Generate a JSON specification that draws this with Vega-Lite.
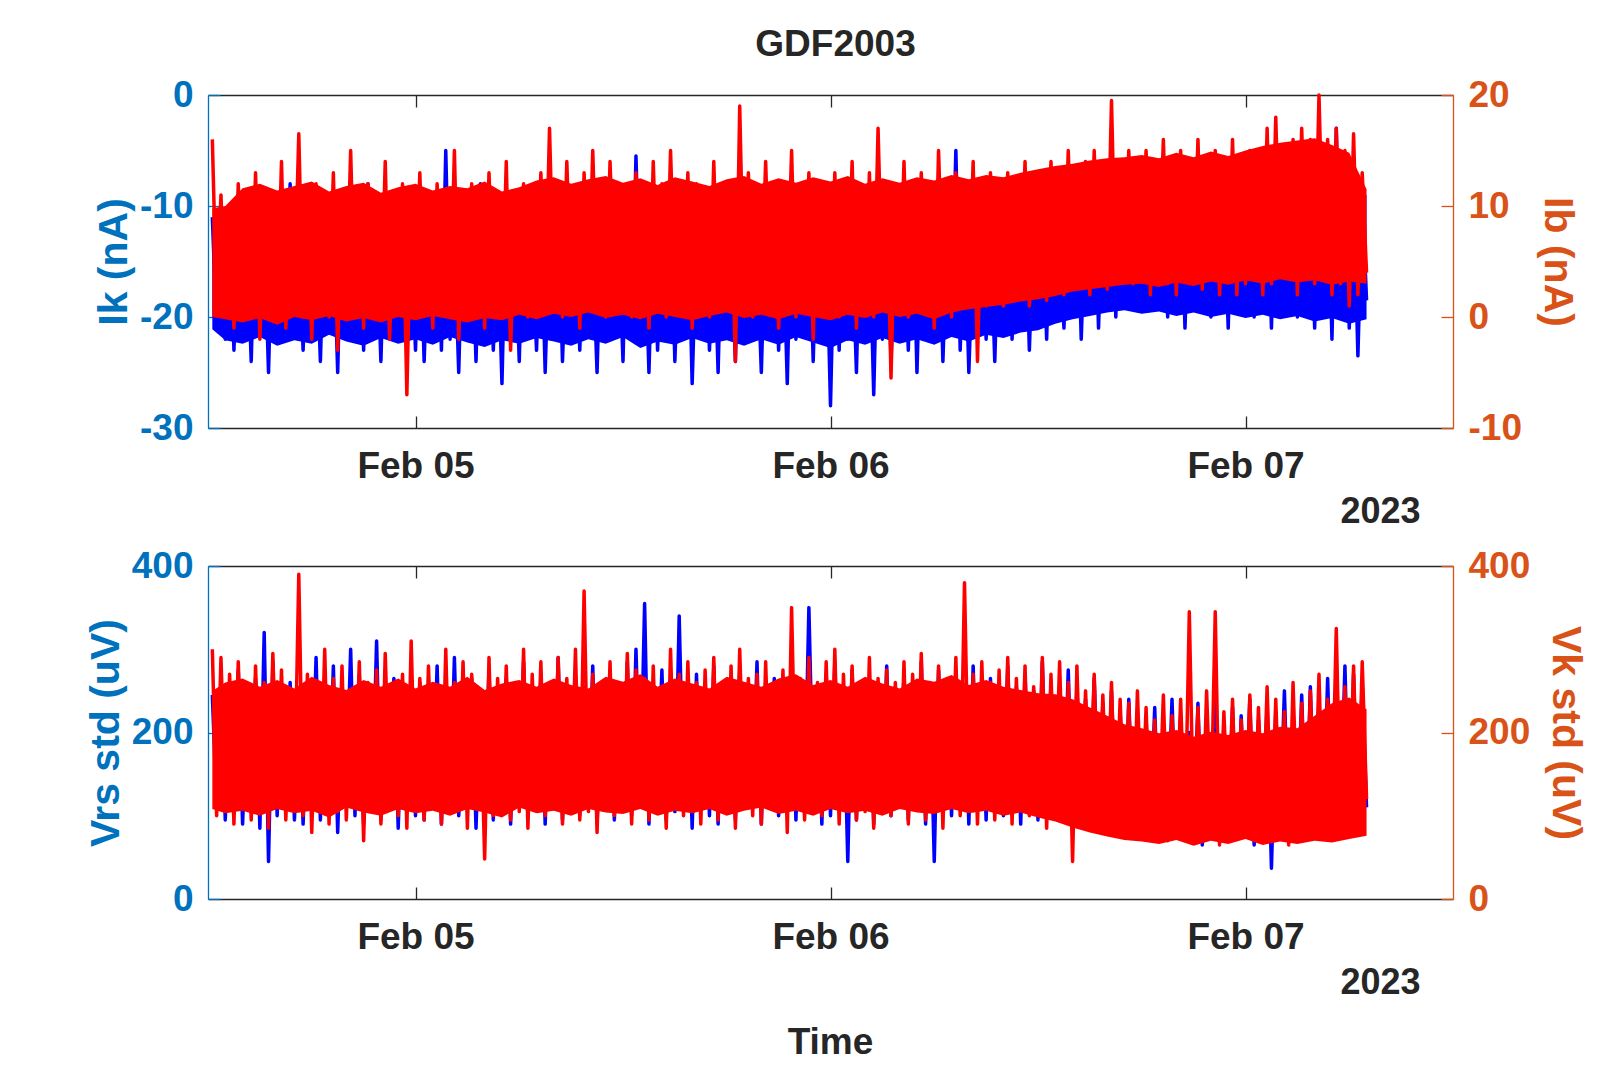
{
  "$schema": "https://vega.github.io/schema/vega-lite/v6.json",
  "padding": {"left": 85, "top": 26, "right": 5, "bottom": 5},
  "title": {"text": "GDF2003", "fontSize": 37, "fontWeight": "bold", "color": "#262626", "anchor": "middle", "offset": 12},
  "config": {
    "font": "Liberation Sans",
    "view": {"stroke": null},
    "line": {"strokeWidth": 3.5, "strokeJoin": "round", "clip": true},
    "area": {"clip": true, "opacity": 1},
    "axis": {"grid": false, "labelFontSize": 37, "labelFontWeight": "bold", "titleFontWeight": "bold", "tickSize": -12, "tickWidth": 1.3, "domainWidth": 1.3}
  },
  "datasets": {
    "b": [
{"t":"2023-02-04T12:15","ikLo":-21.1,"ikHi":-12,"ibLo":0.0,"ibHi":9.8,"vkLo":108,"vkHi":250},
{"t":"2023-02-04T13:00","ikLo":-22.1,"ikHi":-12,"ibLo":-0.2,"ibHi":10.0,"vkLo":103,"vkHi":260},
{"t":"2023-02-04T14:00","ikLo":-22.4,"ikHi":-12,"ibLo":-0.5,"ibHi":11.6,"vkLo":106,"vkHi":265},
{"t":"2023-02-04T15:00","ikLo":-21.8,"ikHi":-12,"ibLo":-0.1,"ibHi":12.0,"vkLo":100,"vkHi":255},
{"t":"2023-02-04T16:00","ikLo":-22.6,"ikHi":-12,"ibLo":-0.7,"ibHi":11.4,"vkLo":108,"vkHi":263},
{"t":"2023-02-04T17:00","ikLo":-22.1,"ikHi":-12,"ibLo":0.0,"ibHi":11.8,"vkLo":103,"vkHi":253},
{"t":"2023-02-04T18:00","ikLo":-22.4,"ikHi":-12,"ibLo":-0.3,"ibHi":12.2,"vkLo":106,"vkHi":267},
{"t":"2023-02-04T19:00","ikLo":-21.6,"ikHi":-12,"ibLo":0.1,"ibHi":11.3,"vkLo":98,"vkHi":257},
{"t":"2023-02-04T20:00","ikLo":-22.2,"ikHi":-12,"ibLo":-0.4,"ibHi":11.8,"vkLo":110,"vkHi":251},
{"t":"2023-02-04T21:00","ikLo":-22.6,"ikHi":-12,"ibLo":-0.1,"ibHi":12.1,"vkLo":104,"vkHi":263},
{"t":"2023-02-04T22:00","ikLo":-21.9,"ikHi":-12,"ibLo":-0.5,"ibHi":11.2,"vkLo":100,"vkHi":255},
{"t":"2023-02-04T23:00","ikLo":-22.4,"ikHi":-12,"ibLo":0.0,"ibHi":11.7,"vkLo":108,"vkHi":265},
{"t":"2023-02-05T00:00","ikLo":-22.0,"ikHi":-12,"ibLo":-0.3,"ibHi":12.0,"vkLo":103,"vkHi":253},
{"t":"2023-02-05T01:00","ikLo":-22.5,"ikHi":-12,"ibLo":0.1,"ibHi":11.4,"vkLo":106,"vkHi":261},
{"t":"2023-02-05T02:00","ikLo":-21.8,"ikHi":-12,"ibLo":-0.2,"ibHi":11.8,"vkLo":100,"vkHi":255},
{"t":"2023-02-05T03:00","ikLo":-22.3,"ikHi":-12,"ibLo":-0.5,"ibHi":11.6,"vkLo":108,"vkHi":267},
{"t":"2023-02-05T04:00","ikLo":-22.7,"ikHi":-12,"ibLo":-0.1,"ibHi":12.2,"vkLo":104,"vkHi":251},
{"t":"2023-02-05T05:00","ikLo":-22.1,"ikHi":-12,"ibLo":-0.3,"ibHi":11.3,"vkLo":98,"vkHi":259},
{"t":"2023-02-05T06:00","ikLo":-22.4,"ikHi":-12,"ibLo":0.2,"ibHi":11.7,"vkLo":110,"vkHi":263},
{"t":"2023-02-05T07:00","ikLo":-21.9,"ikHi":-12,"ibLo":-0.2,"ibHi":12.3,"vkLo":103,"vkHi":255},
{"t":"2023-02-05T08:00","ikLo":-22.2,"ikHi":-12,"ibLo":0.3,"ibHi":12.6,"vkLo":106,"vkHi":265},
{"t":"2023-02-05T09:00","ikLo":-22.6,"ikHi":-12,"ibLo":0.0,"ibHi":12.0,"vkLo":100,"vkHi":257},
{"t":"2023-02-05T10:00","ikLo":-22.0,"ikHi":-12,"ibLo":0.4,"ibHi":12.4,"vkLo":108,"vkHi":253},
{"t":"2023-02-05T11:00","ikLo":-22.4,"ikHi":-12,"ibLo":-0.1,"ibHi":12.7,"vkLo":104,"vkHi":267},
{"t":"2023-02-05T12:00","ikLo":-21.8,"ikHi":-12,"ibLo":0.2,"ibHi":12.1,"vkLo":102,"vkHi":261},
{"t":"2023-02-05T13:00","ikLo":-22.8,"ikHi":-12,"ibLo":-0.2,"ibHi":12.5,"vkLo":108,"vkHi":270},
{"t":"2023-02-05T14:00","ikLo":-22.2,"ikHi":-12,"ibLo":0.3,"ibHi":11.9,"vkLo":100,"vkHi":255},
{"t":"2023-02-05T15:00","ikLo":-22.5,"ikHi":-12,"ibLo":0.0,"ibHi":12.6,"vkLo":106,"vkHi":265},
{"t":"2023-02-05T16:00","ikLo":-21.9,"ikHi":-12,"ibLo":-0.3,"ibHi":12.2,"vkLo":103,"vkHi":259},
{"t":"2023-02-05T17:00","ikLo":-22.4,"ikHi":-12,"ibLo":0.1,"ibHi":11.8,"vkLo":108,"vkHi":253},
{"t":"2023-02-05T18:00","ikLo":-22.1,"ikHi":-12,"ibLo":0.4,"ibHi":12.4,"vkLo":100,"vkHi":267},
{"t":"2023-02-05T19:00","ikLo":-22.6,"ikHi":-12,"ibLo":-0.1,"ibHi":12.7,"vkLo":106,"vkHi":261},
{"t":"2023-02-05T20:00","ikLo":-22.0,"ikHi":-12,"ibLo":0.2,"ibHi":12.0,"vkLo":110,"vkHi":255},
{"t":"2023-02-05T21:00","ikLo":-22.5,"ikHi":-12,"ibLo":-0.2,"ibHi":12.5,"vkLo":102,"vkHi":265},
{"t":"2023-02-05T22:00","ikLo":-21.8,"ikHi":-12,"ibLo":0.3,"ibHi":12.1,"vkLo":106,"vkHi":270},
{"t":"2023-02-05T23:00","ikLo":-22.3,"ikHi":-12,"ibLo":0.0,"ibHi":12.6,"vkLo":100,"vkHi":257},
{"t":"2023-02-06T00:00","ikLo":-22.8,"ikHi":-12,"ibLo":-0.3,"ibHi":12.2,"vkLo":108,"vkHi":263},
{"t":"2023-02-06T01:00","ikLo":-22.1,"ikHi":-12,"ibLo":0.2,"ibHi":12.7,"vkLo":103,"vkHi":255},
{"t":"2023-02-06T02:00","ikLo":-22.5,"ikHi":-12,"ibLo":-0.1,"ibHi":12.0,"vkLo":106,"vkHi":267},
{"t":"2023-02-06T03:00","ikLo":-21.9,"ikHi":-12,"ibLo":0.4,"ibHi":12.5,"vkLo":100,"vkHi":259},
{"t":"2023-02-06T04:00","ikLo":-22.4,"ikHi":-12,"ibLo":0.0,"ibHi":12.1,"vkLo":108,"vkHi":253},
{"t":"2023-02-06T05:00","ikLo":-22.0,"ikHi":-12,"ibLo":0.3,"ibHi":12.6,"vkLo":104,"vkHi":265},
{"t":"2023-02-06T06:00","ikLo":-22.5,"ikHi":-12,"ibLo":-0.2,"ibHi":12.3,"vkLo":102,"vkHi":261},
{"t":"2023-02-06T07:00","ikLo":-21.8,"ikHi":-12,"ibLo":0.4,"ibHi":12.8,"vkLo":108,"vkHi":269},
{"t":"2023-02-06T08:00","ikLo":-22.2,"ikHi":-12,"ibLo":0.7,"ibHi":12.4,"vkLo":103,"vkHi":257},
{"t":"2023-02-06T09:00","ikLo":-21.6,"ikHi":-12,"ibLo":0.9,"ibHi":12.8,"vkLo":106,"vkHi":263},
{"t":"2023-02-06T10:00","ikLo":-21.9,"ikHi":-11.5,"ibLo":1.1,"ibHi":12.6,"vkLo":100,"vkHi":255},
{"t":"2023-02-06T11:00","ikLo":-21.4,"ikHi":-11.5,"ibLo":1.4,"ibHi":13.0,"vkLo":104,"vkHi":251},
{"t":"2023-02-06T12:00","ikLo":-21.2,"ikHi":-11,"ibLo":1.6,"ibHi":13.3,"vkLo":98,"vkHi":247},
{"t":"2023-02-06T13:00","ikLo":-20.6,"ikHi":-10.5,"ibLo":1.9,"ibHi":13.6,"vkLo":93,"vkHi":246},
{"t":"2023-02-06T14:00","ikLo":-20.2,"ikHi":-10,"ibLo":2.3,"ibHi":13.8,"vkLo":86,"vkHi":240},
{"t":"2023-02-06T15:00","ikLo":-19.9,"ikHi":-10,"ibLo":2.5,"ibHi":14.1,"vkLo":80,"vkHi":230},
{"t":"2023-02-06T16:00","ikLo":-19.6,"ikHi":-9.5,"ibLo":2.7,"ibHi":14.3,"vkLo":75,"vkHi":220},
{"t":"2023-02-06T17:00","ikLo":-19.4,"ikHi":-9,"ibLo":2.9,"ibHi":14.4,"vkLo":71,"vkHi":210},
{"t":"2023-02-06T18:00","ikLo":-19.7,"ikHi":-9,"ibLo":3.0,"ibHi":14.6,"vkLo":69,"vkHi":205},
{"t":"2023-02-06T19:00","ikLo":-19.5,"ikHi":-9,"ibLo":2.7,"ibHi":14.3,"vkLo":66,"vkHi":199},
{"t":"2023-02-06T20:00","ikLo":-19.9,"ikHi":-9,"ibLo":3.1,"ibHi":14.8,"vkLo":71,"vkHi":203},
{"t":"2023-02-06T21:00","ikLo":-19.6,"ikHi":-9,"ibLo":2.8,"ibHi":14.4,"vkLo":64,"vkHi":195},
{"t":"2023-02-06T22:00","ikLo":-20.0,"ikHi":-9,"ibLo":3.2,"ibHi":14.9,"vkLo":70,"vkHi":201},
{"t":"2023-02-06T23:00","ikLo":-19.7,"ikHi":-9,"ibLo":2.9,"ibHi":14.5,"vkLo":66,"vkHi":197},
{"t":"2023-02-07T00:00","ikLo":-20.1,"ikHi":-9,"ibLo":3.3,"ibHi":15.0,"vkLo":72,"vkHi":203},
{"t":"2023-02-07T01:00","ikLo":-19.8,"ikHi":-9,"ibLo":3.0,"ibHi":15.4,"vkLo":65,"vkHi":199},
{"t":"2023-02-07T02:00","ikLo":-20.2,"ikHi":-9,"ibLo":3.4,"ibHi":15.7,"vkLo":69,"vkHi":207},
{"t":"2023-02-07T03:00","ikLo":-19.9,"ikHi":-9,"ibLo":3.1,"ibHi":15.9,"vkLo":66,"vkHi":205},
{"t":"2023-02-07T04:00","ikLo":-20.4,"ikHi":-9,"ibLo":3.3,"ibHi":16.1,"vkLo":70,"vkHi":220},
{"t":"2023-02-07T05:00","ikLo":-20.1,"ikHi":-9,"ibLo":2.9,"ibHi":15.5,"vkLo":68,"vkHi":235},
{"t":"2023-02-07T06:00","ikLo":-20.6,"ikHi":-9,"ibLo":3.2,"ibHi":14.8,"vkLo":72,"vkHi":242},
{"t":"2023-02-07T07:00","ikLo":-20.2,"ikHi":-9,"ibLo":3.0,"ibHi":11.5,"vkLo":76,"vkHi":228}
    ],
    "s": [
{"t":"2023-02-04T12:15","ik":-11,"ib":16,"vrs":245,"vk":300},
{"t":"2023-02-04T12:30","ik":-21,"ib":1,"vrs":110,"vk":100},
{"t":"2023-02-04T12:45","ik":-12,"ib":11,"vrs":260,"vk":290},
{"t":"2023-02-04T13:00","ik":-22,"ib":0,"vrs":95,"vk":115},
{"t":"2023-02-04T13:15","ik":-10,"ib":10,"vrs":250,"vk":270},
{"t":"2023-02-04T13:30","ik":-23,"ib":-1,"vrs":105,"vk":90},
{"t":"2023-02-04T13:45","ik":-11,"ib":12,"vrs":275,"vk":285},
{"t":"2023-02-04T14:00","ik":-20,"ib":1,"vrs":90,"vk":120},
{"t":"2023-02-04T14:15","ik":-13,"ib":10,"vrs":230,"vk":250},
{"t":"2023-02-04T14:30","ik":-24,"ib":0,"vrs":115,"vk":95},
{"t":"2023-02-04T14:45","ik":-9,"ib":13,"vrs":265,"vk":280},
{"t":"2023-02-04T15:00","ik":-21,"ib":-2,"vrs":85,"vk":105},
{"t":"2023-02-04T15:15","ik":-12,"ib":9,"vrs":320,"vk":260},
{"t":"2023-02-04T15:30","ik":-25,"ib":1,"vrs":45,"vk":85},
{"t":"2023-02-04T15:45","ik":-10,"ib":11,"vrs":285,"vk":295},
{"t":"2023-02-04T16:00","ik":-19,"ib":0,"vrs":100,"vk":110},
{"t":"2023-02-04T16:15","ik":-14,"ib":14,"vrs":250,"vk":275},
{"t":"2023-02-04T16:30","ik":-22,"ib":-1,"vrs":110,"vk":95},
{"t":"2023-02-04T16:45","ik":-8,"ib":10,"vrs":260,"vk":240},
{"t":"2023-02-04T17:00","ik":-21,"ib":2,"vrs":95,"vk":115},
{"t":"2023-02-04T17:15","ik":-12,"ib":16.5,"vrs":245,"vk":390},
{"t":"2023-02-04T17:30","ik":-23,"ib":0,"vrs":90,"vk":100},
{"t":"2023-02-04T17:45","ik":-11,"ib":11,"vrs":235,"vk":270},
{"t":"2023-02-04T18:00","ik":-20,"ib":-2,"vrs":120,"vk":80},
{"t":"2023-02-04T18:15","ik":-13,"ib":12,"vrs":290,"vk":255},
{"t":"2023-02-04T18:30","ik":-24,"ib":1,"vrs":95,"vk":120},
{"t":"2023-02-04T18:45","ik":-10,"ib":10,"vrs":250,"vk":300},
{"t":"2023-02-04T19:00","ik":-21,"ib":0,"vrs":110,"vk":90},
{"t":"2023-02-04T19:15","ik":-12,"ib":13,"vrs":280,"vk":265},
{"t":"2023-02-04T19:30","ik":-25,"ib":-3,"vrs":80,"vk":105},
{"t":"2023-02-04T19:45","ik":-9,"ib":11,"vrs":240,"vk":280},
{"t":"2023-02-04T20:00","ik":-22,"ib":1,"vrs":125,"vk":95},
{"t":"2023-02-04T20:15","ik":-14,"ib":15,"vrs":300,"vk":250},
{"t":"2023-02-04T20:30","ik":-20,"ib":0,"vrs":100,"vk":115},
{"t":"2023-02-04T20:45","ik":-11,"ib":10,"vrs":270,"vk":285},
{"t":"2023-02-04T21:00","ik":-23,"ib":-1,"vrs":90,"vk":70},
{"t":"2023-02-04T21:15","ik":-8,"ib":12,"vrs":235,"vk":260},
{"t":"2023-02-04T21:30","ik":-21,"ib":2,"vrs":115,"vk":110},
{"t":"2023-02-04T21:45","ik":-13,"ib":11,"vrs":310,"vk":275},
{"t":"2023-02-04T22:00","ik":-24,"ib":0,"vrs":95,"vk":90},
{"t":"2023-02-04T22:15","ik":-10,"ib":14,"vrs":250,"vk":295},
{"t":"2023-02-04T22:30","ik":-19,"ib":-2,"vrs":110,"vk":120},
{"t":"2023-02-04T22:45","ik":-12,"ib":10,"vrs":265,"vk":255},
{"t":"2023-02-04T23:00","ik":-22,"ib":1,"vrs":85,"vk":100},
{"t":"2023-02-04T23:15","ik":-9,"ib":12,"vrs":245,"vk":270},
{"t":"2023-02-04T23:30","ik":-20,"ib":-7,"vrs":120,"vk":85},
{"t":"2023-02-04T23:45","ik":-13,"ib":11,"vrs":255,"vk":310},
{"t":"2023-02-05T00:00","ik":-23,"ib":0,"vrs":100,"vk":110},
{"t":"2023-02-05T00:15","ik":-11,"ib":13,"vrs":260,"vk":265},
{"t":"2023-02-05T00:30","ik":-24,"ib":1,"vrs":95,"vk":95},
{"t":"2023-02-05T00:45","ik":-12,"ib":10,"vrs":245,"vk":280},
{"t":"2023-02-05T01:00","ik":-21,"ib":-1,"vrs":115,"vk":120},
{"t":"2023-02-05T01:15","ik":-9,"ib":12,"vrs":280,"vk":250},
{"t":"2023-02-05T01:30","ik":-23,"ib":2,"vrs":90,"vk":90},
{"t":"2023-02-05T01:45","ik":-5,"ib":11,"vrs":250,"vk":300},
{"t":"2023-02-05T02:00","ik":-22,"ib":0,"vrs":110,"vk":105},
{"t":"2023-02-05T02:15","ik":-13,"ib":15,"vrs":290,"vk":260},
{"t":"2023-02-05T02:30","ik":-25,"ib":-2,"vrs":100,"vk":115},
{"t":"2023-02-05T02:45","ik":-10,"ib":10,"vrs":240,"vk":285},
{"t":"2023-02-05T03:00","ik":-21,"ib":1,"vrs":125,"vk":85},
{"t":"2023-02-05T03:15","ik":-12,"ib":12,"vrs":265,"vk":270},
{"t":"2023-02-05T03:30","ik":-24,"ib":0,"vrs":85,"vk":110},
{"t":"2023-02-05T03:45","ik":-8,"ib":11,"vrs":245,"vk":245},
{"t":"2023-02-05T04:00","ik":-20,"ib":-1,"vrs":120,"vk":48},
{"t":"2023-02-05T04:15","ik":-11,"ib":13,"vrs":275,"vk":290},
{"t":"2023-02-05T04:30","ik":-23,"ib":2,"vrs":95,"vk":100},
{"t":"2023-02-05T04:45","ik":-13,"ib":10,"vrs":250,"vk":265},
{"t":"2023-02-05T05:00","ik":-26,"ib":0,"vrs":105,"vk":120},
{"t":"2023-02-05T05:15","ik":-9,"ib":14,"vrs":265,"vk":280},
{"t":"2023-02-05T05:30","ik":-21,"ib":-3,"vrs":90,"vk":95},
{"t":"2023-02-05T05:45","ik":-12,"ib":11,"vrs":240,"vk":255},
{"t":"2023-02-05T06:00","ik":-24,"ib":1,"vrs":120,"vk":105},
{"t":"2023-02-05T06:15","ik":-10,"ib":12,"vrs":285,"vk":300},
{"t":"2023-02-05T06:30","ik":-20,"ib":0,"vrs":100,"vk":85},
{"t":"2023-02-05T06:45","ik":-14,"ib":10,"vrs":255,"vk":270},
{"t":"2023-02-05T07:00","ik":-23,"ib":2,"vrs":110,"vk":115},
{"t":"2023-02-05T07:15","ik":-11,"ib":13,"vrs":270,"vk":285},
{"t":"2023-02-05T07:30","ik":-25,"ib":1,"vrs":90,"vk":100},
{"t":"2023-02-05T07:45","ik":-12,"ib":17,"vrs":250,"vk":260},
{"t":"2023-02-05T08:00","ik":-21,"ib":2,"vrs":115,"vk":110},
{"t":"2023-02-05T08:15","ik":-10,"ib":12,"vrs":290,"vk":290},
{"t":"2023-02-05T08:30","ik":-24,"ib":0,"vrs":95,"vk":90},
{"t":"2023-02-05T08:45","ik":-13,"ib":14,"vrs":245,"vk":265},
{"t":"2023-02-05T09:00","ik":-22,"ib":2,"vrs":125,"vk":120},
{"t":"2023-02-05T09:15","ik":-9,"ib":11,"vrs":265,"vk":300},
{"t":"2023-02-05T09:30","ik":-23,"ib":-1,"vrs":100,"vk":95},
{"t":"2023-02-05T09:45","ik":-12,"ib":13,"vrs":255,"vk":370},
{"t":"2023-02-05T10:00","ik":-20,"ib":1,"vrs":115,"vk":105},
{"t":"2023-02-05T10:15","ik":-14,"ib":15,"vrs":280,"vk":270},
{"t":"2023-02-05T10:30","ik":-25,"ib":2,"vrs":90,"vk":80},
{"t":"2023-02-05T10:45","ik":-11,"ib":11,"vrs":240,"vk":255},
{"t":"2023-02-05T11:00","ik":-22,"ib":0,"vrs":120,"vk":115},
{"t":"2023-02-05T11:15","ik":-10,"ib":14,"vrs":270,"vk":285},
{"t":"2023-02-05T11:30","ik":-21,"ib":2,"vrs":95,"vk":100},
{"t":"2023-02-05T11:45","ik":-13,"ib":12,"vrs":250,"vk":260},
{"t":"2023-02-05T12:00","ik":-24,"ib":1,"vrs":110,"vk":110},
{"t":"2023-02-05T12:15","ik":-8,"ib":10,"vrs":285,"vk":295},
{"t":"2023-02-05T12:30","ik":-22,"ib":0,"vrs":100,"vk":90},
{"t":"2023-02-05T12:45","ik":-5.5,"ib":13,"vrs":300,"vk":275},
{"t":"2023-02-05T13:00","ik":-20,"ib":2,"vrs":120,"vk":120},
{"t":"2023-02-05T13:15","ik":-12,"ib":11,"vrs":355,"vk":265},
{"t":"2023-02-05T13:30","ik":-25,"ib":-1,"vrs":90,"vk":95},
{"t":"2023-02-05T13:45","ik":-11,"ib":14,"vrs":245,"vk":280},
{"t":"2023-02-05T14:00","ik":-23,"ib":1,"vrs":130,"vk":105},
{"t":"2023-02-05T14:15","ik":-13,"ib":12,"vrs":275,"vk":255},
{"t":"2023-02-05T14:30","ik":-21,"ib":0,"vrs":95,"vk":85},
{"t":"2023-02-05T14:45","ik":-9,"ib":15,"vrs":250,"vk":300},
{"t":"2023-02-05T15:00","ik":-24,"ib":2,"vrs":105,"vk":110},
{"t":"2023-02-05T15:15","ik":-12,"ib":11,"vrs":340,"vk":270},
{"t":"2023-02-05T15:30","ik":-22,"ib":1,"vrs":115,"vk":100},
{"t":"2023-02-05T15:45","ik":-10,"ib":13,"vrs":255,"vk":285},
{"t":"2023-02-05T16:00","ik":-26,"ib":-1,"vrs":85,"vk":120},
{"t":"2023-02-05T16:15","ik":-13,"ib":12,"vrs":270,"vk":260},
{"t":"2023-02-05T16:30","ik":-20,"ib":2,"vrs":120,"vk":90},
{"t":"2023-02-05T16:45","ik":-11,"ib":10,"vrs":245,"vk":275},
{"t":"2023-02-05T17:00","ik":-23,"ib":0,"vrs":100,"vk":115},
{"t":"2023-02-05T17:15","ik":-12,"ib":14,"vrs":280,"vk":290},
{"t":"2023-02-05T17:30","ik":-25,"ib":1,"vrs":90,"vk":95},
{"t":"2023-02-05T17:45","ik":-9,"ib":12,"vrs":260,"vk":255},
{"t":"2023-02-05T18:00","ik":-21,"ib":2,"vrs":125,"vk":110},
{"t":"2023-02-05T18:15","ik":-13,"ib":11,"vrs":250,"vk":280},
{"t":"2023-02-05T18:30","ik":-24,"ib":-4,"vrs":95,"vk":85},
{"t":"2023-02-05T18:45","ik":-10,"ib":19,"vrs":275,"vk":300},
{"t":"2023-02-05T19:00","ik":-22,"ib":1,"vrs":110,"vk":120},
{"t":"2023-02-05T19:15","ik":-12,"ib":13,"vrs":245,"vk":265},
{"t":"2023-02-05T19:30","ik":-20,"ib":0,"vrs":130,"vk":100},
{"t":"2023-02-05T19:45","ik":-14,"ib":11,"vrs":285,"vk":270},
{"t":"2023-02-05T20:00","ik":-25,"ib":2,"vrs":90,"vk":90},
{"t":"2023-02-05T20:15","ik":-11,"ib":14,"vrs":255,"vk":285},
{"t":"2023-02-05T20:30","ik":-21,"ib":1,"vrs":115,"vk":115},
{"t":"2023-02-05T20:45","ik":-10,"ib":10,"vrs":265,"vk":255},
{"t":"2023-02-05T21:00","ik":-23,"ib":-1,"vrs":100,"vk":105},
{"t":"2023-02-05T21:15","ik":-12,"ib":12,"vrs":240,"vk":275},
{"t":"2023-02-05T21:30","ik":-26,"ib":2,"vrs":120,"vk":80},
{"t":"2023-02-05T21:45","ik":-9,"ib":15,"vrs":275,"vk":350},
{"t":"2023-02-05T22:00","ik":-22,"ib":0,"vrs":95,"vk":110},
{"t":"2023-02-05T22:15","ik":-13,"ib":11,"vrs":260,"vk":265},
{"t":"2023-02-05T22:30","ik":-20,"ib":1,"vrs":110,"vk":95},
{"t":"2023-02-05T22:45","ik":-11,"ib":13,"vrs":350,"vk":290},
{"t":"2023-02-05T23:00","ik":-24,"ib":-2,"vrs":125,"vk":120},
{"t":"2023-02-05T23:15","ik":-10,"ib":12,"vrs":250,"vk":260},
{"t":"2023-02-05T23:30","ik":-21,"ib":2,"vrs":90,"vk":100},
{"t":"2023-02-05T23:45","ik":-12,"ib":10,"vrs":270,"vk":285},
{"t":"2023-02-06T00:00","ik":-28,"ib":1,"vrs":100,"vk":110},
{"t":"2023-02-06T00:15","ik":-11,"ib":13,"vrs":285,"vk":300},
{"t":"2023-02-06T00:30","ik":-23,"ib":0,"vrs":110,"vk":90},
{"t":"2023-02-06T00:45","ik":-10,"ib":12,"vrs":255,"vk":270},
{"t":"2023-02-06T01:00","ik":-22,"ib":2,"vrs":45,"vk":115},
{"t":"2023-02-06T01:15","ik":-13,"ib":14,"vrs":275,"vk":280},
{"t":"2023-02-06T01:30","ik":-25,"ib":-1,"vrs":95,"vk":95},
{"t":"2023-02-06T01:45","ik":-9,"ib":11,"vrs":250,"vk":255},
{"t":"2023-02-06T02:00","ik":-21,"ib":1,"vrs":120,"vk":105},
{"t":"2023-02-06T02:15","ik":-12,"ib":13,"vrs":265,"vk":290},
{"t":"2023-02-06T02:30","ik":-27,"ib":0,"vrs":90,"vk":85},
{"t":"2023-02-06T02:45","ik":-11,"ib":17,"vrs":245,"vk":265},
{"t":"2023-02-06T03:00","ik":-22,"ib":2,"vrs":115,"vk":120},
{"t":"2023-02-06T03:15","ik":-10,"ib":12,"vrs":280,"vk":275},
{"t":"2023-02-06T03:30","ik":-24,"ib":-5.5,"vrs":100,"vk":100},
{"t":"2023-02-06T03:45","ik":-13,"ib":11,"vrs":255,"vk":260},
{"t":"2023-02-06T04:00","ik":-20,"ib":1,"vrs":125,"vk":110},
{"t":"2023-02-06T04:15","ik":-12,"ib":14,"vrs":270,"vk":285},
{"t":"2023-02-06T04:30","ik":-23,"ib":0,"vrs":95,"vk":90},
{"t":"2023-02-06T04:45","ik":-9,"ib":12,"vrs":250,"vk":270},
{"t":"2023-02-06T05:00","ik":-25,"ib":2,"vrs":110,"vk":115},
{"t":"2023-02-06T05:15","ik":-11,"ib":13,"vrs":285,"vk":295},
{"t":"2023-02-06T05:30","ik":-21,"ib":1,"vrs":90,"vk":95},
{"t":"2023-02-06T05:45","ik":-13,"ib":10,"vrs":260,"vk":255},
{"t":"2023-02-06T06:00","ik":-22,"ib":-1,"vrs":45,"vk":105},
{"t":"2023-02-06T06:15","ik":-10,"ib":15,"vrs":275,"vk":280},
{"t":"2023-02-06T06:30","ik":-24,"ib":2,"vrs":115,"vk":85},
{"t":"2023-02-06T06:45","ik":-12,"ib":12,"vrs":245,"vk":265},
{"t":"2023-02-06T07:00","ik":-20,"ib":0,"vrs":100,"vk":120},
{"t":"2023-02-06T07:15","ik":-5,"ib":13,"vrs":270,"vk":290},
{"t":"2023-02-06T07:30","ik":-23,"ib":1,"vrs":120,"vk":100},
{"t":"2023-02-06T07:45","ik":-11,"ib":11,"vrs":255,"vk":380},
{"t":"2023-02-06T08:00","ik":-25,"ib":2,"vrs":90,"vk":110},
{"t":"2023-02-06T08:15","ik":-13,"ib":14,"vrs":280,"vk":270},
{"t":"2023-02-06T08:30","ik":-21,"ib":-4,"vrs":110,"vk":90},
{"t":"2023-02-06T08:45","ik":-10,"ib":12,"vrs":250,"vk":285},
{"t":"2023-02-06T09:00","ik":-22,"ib":1,"vrs":95,"vk":115},
{"t":"2023-02-06T09:15","ik":-12,"ib":13,"vrs":265,"vk":260},
{"t":"2023-02-06T09:30","ik":-24,"ib":2,"vrs":125,"vk":95},
{"t":"2023-02-06T09:45","ik":-11,"ib":11,"vrs":245,"vk":275},
{"t":"2023-02-06T10:00","ik":-20,"ib":1,"vrs":100,"vk":105},
{"t":"2023-02-06T10:15","ik":-10,"ib":13,"vrs":280,"vk":290},
{"t":"2023-02-06T10:30","ik":-22,"ib":1.5,"vrs":110,"vk":90},
{"t":"2023-02-06T10:45","ik":-12,"ib":12,"vrs":255,"vk":265},
{"t":"2023-02-06T11:00","ik":-21,"ib":2,"vrs":90,"vk":120},
{"t":"2023-02-06T11:15","ik":-9,"ib":14,"vrs":270,"vk":280},
{"t":"2023-02-06T11:30","ik":-23,"ib":1,"vrs":115,"vk":100},
{"t":"2023-02-06T11:45","ik":-11,"ib":12,"vrs":250,"vk":255},
{"t":"2023-02-06T12:00","ik":-20,"ib":2.5,"vrs":95,"vk":110},
{"t":"2023-02-06T12:15","ik":-10,"ib":13,"vrs":285,"vk":290},
{"t":"2023-02-06T12:30","ik":-22,"ib":1.5,"vrs":120,"vk":85},
{"t":"2023-02-06T12:45","ik":-8,"ib":14,"vrs":260,"vk":270},
{"t":"2023-02-06T13:00","ik":-19,"ib":3,"vrs":100,"vk":115},
{"t":"2023-02-06T13:15","ik":-11,"ib":12,"vrs":245,"vk":285},
{"t":"2023-02-06T13:30","ik":-21,"ib":2,"vrs":110,"vk":95},
{"t":"2023-02-06T13:45","ik":-9,"ib":15,"vrs":275,"vk":260},
{"t":"2023-02-06T14:00","ik":-20,"ib":2.5,"vrs":90,"vk":45},
{"t":"2023-02-06T14:15","ik":-8,"ib":13,"vrs":255,"vk":280},
{"t":"2023-02-06T14:30","ik":-22,"ib":3,"vrs":105,"vk":100},
{"t":"2023-02-06T14:45","ik":-10,"ib":14,"vrs":240,"vk":250},
{"t":"2023-02-06T15:00","ik":-19,"ib":2,"vrs":95,"vk":105},
{"t":"2023-02-06T15:15","ik":-7,"ib":15,"vrs":265,"vk":270},
{"t":"2023-02-06T15:30","ik":-21,"ib":3.5,"vrs":110,"vk":85},
{"t":"2023-02-06T15:45","ik":-9,"ib":13,"vrs":235,"vk":245},
{"t":"2023-02-06T16:00","ik":-18,"ib":2.5,"vrs":85,"vk":100},
{"t":"2023-02-06T16:15","ik":-8,"ib":19.5,"vrs":250,"vk":260},
{"t":"2023-02-06T16:30","ik":-20,"ib":3,"vrs":100,"vk":80},
{"t":"2023-02-06T16:45","ik":-7,"ib":14,"vrs":225,"vk":240},
{"t":"2023-02-06T17:00","ik":-19,"ib":4,"vrs":80,"vk":95},
{"t":"2023-02-06T17:15","ik":-9,"ib":15,"vrs":240,"vk":235},
{"t":"2023-02-06T17:30","ik":-17,"ib":3,"vrs":95,"vk":75},
{"t":"2023-02-06T17:45","ik":-6,"ib":14,"vrs":220,"vk":250},
{"t":"2023-02-06T18:00","ik":-18,"ib":3.5,"vrs":75,"vk":90},
{"t":"2023-02-06T18:15","ik":-8,"ib":15,"vrs":215,"vk":230},
{"t":"2023-02-06T18:30","ik":-19,"ib":2,"vrs":85,"vk":80},
{"t":"2023-02-06T18:45","ik":-7,"ib":13,"vrs":230,"vk":215},
{"t":"2023-02-06T19:00","ik":-17,"ib":4,"vrs":70,"vk":95},
{"t":"2023-02-06T19:15","ik":-6,"ib":16,"vrs":205,"vk":245},
{"t":"2023-02-06T19:30","ik":-20,"ib":3,"vrs":90,"vk":70},
{"t":"2023-02-06T19:45","ik":-8,"ib":14,"vrs":240,"vk":220},
{"t":"2023-02-06T20:00","ik":-18,"ib":2,"vrs":75,"vk":90},
{"t":"2023-02-06T20:15","ik":-7,"ib":15,"vrs":220,"vk":240},
{"t":"2023-02-06T20:30","ik":-21,"ib":4,"vrs":95,"vk":75},
{"t":"2023-02-06T20:45","ik":-9,"ib":13,"vrs":200,"vk":345},
{"t":"2023-02-06T21:00","ik":-17,"ib":3,"vrs":80,"vk":85},
{"t":"2023-02-06T21:15","ik":-6,"ib":16,"vrs":235,"vk":230},
{"t":"2023-02-06T21:30","ik":-19,"ib":2.5,"vrs":65,"vk":70},
{"t":"2023-02-06T21:45","ik":-8,"ib":14,"vrs":215,"vk":250},
{"t":"2023-02-06T22:00","ik":-20,"ib":4,"vrs":90,"vk":95},
{"t":"2023-02-06T22:15","ik":-7,"ib":15,"vrs":245,"vk":345},
{"t":"2023-02-06T22:30","ik":-18,"ib":2,"vrs":70,"vk":65},
{"t":"2023-02-06T22:45","ik":-9,"ib":13,"vrs":210,"vk":225},
{"t":"2023-02-06T23:00","ik":-21,"ib":3.5,"vrs":85,"vk":90},
{"t":"2023-02-06T23:15","ik":-6,"ib":16,"vrs":230,"vk":240},
{"t":"2023-02-06T23:30","ik":-17,"ib":2,"vrs":75,"vk":75},
{"t":"2023-02-06T23:45","ik":-8,"ib":14,"vrs":220,"vk":215},
{"t":"2023-02-07T00:00","ik":-19,"ib":3,"vrs":95,"vk":85},
{"t":"2023-02-07T00:15","ik":-7,"ib":15,"vrs":240,"vk":245},
{"t":"2023-02-07T00:30","ik":-20,"ib":4,"vrs":65,"vk":70},
{"t":"2023-02-07T00:45","ik":-8,"ib":13,"vrs":215,"vk":230},
{"t":"2023-02-07T01:00","ik":-18,"ib":2,"vrs":80,"vk":90},
{"t":"2023-02-07T01:15","ik":-6,"ib":17,"vrs":235,"vk":255},
{"t":"2023-02-07T01:30","ik":-21,"ib":3,"vrs":37,"vk":75},
{"t":"2023-02-07T01:45","ik":-7,"ib":18,"vrs":225,"vk":240},
{"t":"2023-02-07T02:00","ik":-19,"ib":4,"vrs":90,"vk":85},
{"t":"2023-02-07T02:15","ik":-8,"ib":15,"vrs":250,"vk":225},
{"t":"2023-02-07T02:30","ik":-17,"ib":3.5,"vrs":70,"vk":65},
{"t":"2023-02-07T02:45","ik":-6,"ib":16,"vrs":220,"vk":260},
{"t":"2023-02-07T03:00","ik":-20,"ib":2,"vrs":85,"vk":90},
{"t":"2023-02-07T03:15","ik":-7,"ib":17,"vrs":245,"vk":235},
{"t":"2023-02-07T03:30","ik":-18,"ib":4,"vrs":75,"vk":80},
{"t":"2023-02-07T03:45","ik":-8,"ib":16,"vrs":255,"vk":250},
{"t":"2023-02-07T04:00","ik":-21,"ib":3,"vrs":95,"vk":95},
{"t":"2023-02-07T04:15","ik":-6,"ib":20,"vrs":230,"vk":270},
{"t":"2023-02-07T04:30","ik":-19,"ib":4.5,"vrs":80,"vk":75},
{"t":"2023-02-07T04:45","ik":-7,"ib":16,"vrs":265,"vk":240},
{"t":"2023-02-07T05:00","ik":-22,"ib":2,"vrs":90,"vk":100},
{"t":"2023-02-07T05:15","ik":-3,"ib":17,"vrs":240,"vk":325},
{"t":"2023-02-07T05:30","ik":-20,"ib":3,"vrs":100,"vk":85},
{"t":"2023-02-07T05:45","ik":-6,"ib":15,"vrs":280,"vk":255},
{"t":"2023-02-07T06:00","ik":-21,"ib":1,"vrs":85,"vk":95},
{"t":"2023-02-07T06:15","ik":-8,"ib":16.5,"vrs":270,"vk":280},
{"t":"2023-02-07T06:30","ik":-23.5,"ib":2,"vrs":95,"vk":90},
{"t":"2023-02-07T06:45","ik":-9,"ib":13,"vrs":260,"vk":285},
{"t":"2023-02-07T07:00","ik":-18.5,"ib":4,"vrs":110,"vk":120}
    ]
  },
  "spacing": 18,
  "vconcat": [
    {
      "width": 1245,
      "height": 333,
      "layer": [
        {
          "layer": [
            {
              "data": {"name": "b"},
              "mark": {"type": "area", "color": "#0000FF"},
              "encoding": {
                "x": {"field": "t", "type": "temporal",
                  "scale": {"domain": [{"year": 2023, "month": 2, "date": 4, "hours": 12}, {"year": 2023, "month": 2, "date": 7, "hours": 12}]},
                  "axis": {"orient": "bottom", "values": [{"year": 2023, "month": 2, "date": 5}, {"year": 2023, "month": 2, "date": 6}, {"year": 2023, "month": 2, "date": 7}],
                    "format": "%b %d", "labelColor": "#262626", "domainColor": "#262626", "tickColor": "#262626", "labelPadding": 32,
                    "title": "2023", "titleFontSize": 36, "titleColor": "#262626", "titleX": 1212, "titleAlign": "right", "titlePadding": 10}},
                "y": {"field": "ikLo", "type": "quantitative", "scale": {"domain": [-30, 0]},
                  "axis": {"orient": "left", "values": [-30, -20, -10, 0], "labelExpr": "'' + datum.value", "title": "Ik (nA)", "titleFontSize": 41,
                    "titleColor": "#0072BD", "labelColor": "#0072BD", "domainColor": "#0072BD", "tickColor": "#0072BD", "labelPadding": 27, "titlePadding": 4}},
                "y2": {"field": "ikHi"}
              }
            },
            {
              "data": {"name": "s"},
              "mark": {"type": "line", "color": "#0000FF"},
              "encoding": {
                "x": {"field": "t", "type": "temporal"},
                "y": {"field": "ik", "type": "quantitative"}
              }
            }
          ]
        },
        {
          "layer": [
            {
              "data": {"name": "b"},
              "mark": {"type": "area", "color": "#FF0000"},
              "encoding": {
                "x": {"field": "t", "type": "temporal",
                  "axis": {"orient": "top", "values": [{"year": 2023, "month": 2, "date": 5}, {"year": 2023, "month": 2, "date": 6}, {"year": 2023, "month": 2, "date": 7}],
                    "labels": false, "title": null, "domainColor": "#262626", "tickColor": "#262626"}},
                "y": {"field": "ibLo", "type": "quantitative", "scale": {"domain": [-10, 20]},
                  "axis": {"orient": "right", "values": [-10, 0, 10, 20], "labelExpr": "'' + datum.value", "title": "Ib (nA)", "titleFontSize": 41,
                    "titleColor": "#D95319", "labelColor": "#D95319", "domainColor": "#D95319", "tickColor": "#D95319", "labelPadding": 27, "titlePadding": 14}},
                "y2": {"field": "ibHi"}
              }
            },
            {
              "data": {"name": "s"},
              "mark": {"type": "line", "color": "#FF0000"},
              "encoding": {
                "x": {"field": "t", "type": "temporal"},
                "y": {"field": "ib", "type": "quantitative"}
              }
            }
          ]
        }
      ],
      "resolve": {"scale": {"y": "independent"}, "axis": {"x": "independent", "y": "independent"}}
    },
    {
      "width": 1245,
      "height": 333,
      "title": {"text": "Time", "orient": "bottom", "anchor": "middle", "frame": "group", "fontSize": 37, "fontWeight": "bold", "color": "#262626", "offset": 25},
      "layer": [
        {
          "data": {"name": "s"},
          "mark": {"type": "line", "color": "#0000FF"},
          "encoding": {
            "x": {"field": "t", "type": "temporal",
              "scale": {"domain": [{"year": 2023, "month": 2, "date": 4, "hours": 12}, {"year": 2023, "month": 2, "date": 7, "hours": 12}]},
              "axis": {"orient": "bottom", "values": [{"year": 2023, "month": 2, "date": 5}, {"year": 2023, "month": 2, "date": 6}, {"year": 2023, "month": 2, "date": 7}],
                "format": "%b %d", "labelColor": "#262626", "domainColor": "#262626", "tickColor": "#262626", "labelPadding": 32,
                "title": "2023", "titleFontSize": 36, "titleColor": "#262626", "titleX": 1212, "titleAlign": "right", "titlePadding": 10}},
            "y": {"field": "vrs", "type": "quantitative", "scale": {"domain": [0, 400]},
              "axis": {"orient": "left", "values": [0, 200, 400], "title": "Vrs std (uV)", "titleFontSize": 41,
                "titleColor": "#0072BD", "labelColor": "#0072BD", "domainColor": "#0072BD", "tickColor": "#0072BD", "labelPadding": 27, "titlePadding": 4}}
          }
        },
        {
          "layer": [
            {
              "data": {"name": "b"},
              "mark": {"type": "area", "color": "#FF0000"},
              "encoding": {
                "x": {"field": "t", "type": "temporal",
                  "axis": {"orient": "top", "values": [{"year": 2023, "month": 2, "date": 5}, {"year": 2023, "month": 2, "date": 6}, {"year": 2023, "month": 2, "date": 7}],
                    "labels": false, "title": null, "domainColor": "#262626", "tickColor": "#262626"}},
                "y": {"field": "vkLo", "type": "quantitative", "scale": {"domain": [0, 400]},
                  "axis": {"orient": "right", "values": [0, 200, 400], "title": "Vk std (uV)", "titleFontSize": 41,
                    "titleColor": "#D95319", "labelColor": "#D95319", "domainColor": "#D95319", "tickColor": "#D95319", "labelPadding": 27, "titlePadding": 14}},
                "y2": {"field": "vkHi"}
              }
            },
            {
              "data": {"name": "s"},
              "mark": {"type": "line", "color": "#FF0000"},
              "encoding": {
                "x": {"field": "t", "type": "temporal"},
                "y": {"field": "vk", "type": "quantitative"}
              }
            }
          ]
        }
      ],
      "resolve": {"scale": {"y": "independent"}, "axis": {"x": "independent", "y": "independent"}}
    }
  ]
}
